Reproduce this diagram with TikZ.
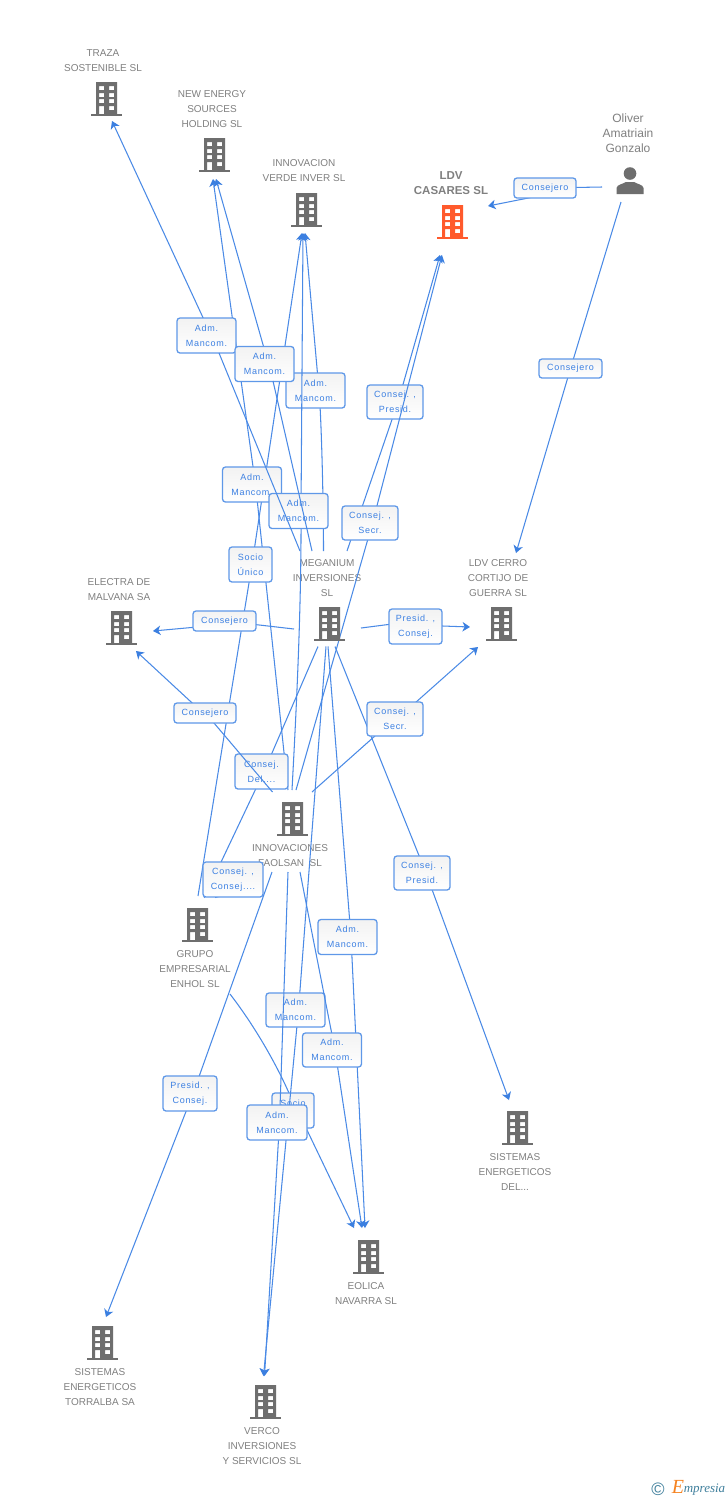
\documentclass[tikz,border=0pt]{standalone}
\usepackage{fontspec}
\setmainfont{Liberation Sans}
\newfontfamily\labf[LetterSpace=8]{Liberation Sans}
\newfontfamily\logof{Liberation Serif}
\usetikzlibrary{arrows.meta}
\definecolor{lnc}{HTML}{4A8AE6}
\definecolor{tipc}{HTML}{3B7FE0}
\definecolor{boxc}{HTML}{5F98E8}
\definecolor{labc}{HTML}{3C80E2}
\definecolor{namec}{HTML}{808080}
\definecolor{iconc}{HTML}{6E6E6E}
\definecolor{hotc}{HTML}{FF5A2C}
\definecolor{tealc}{HTML}{3F7F9C}
\definecolor{orangec}{HTML}{F58220}
\pgfdeclarelayer{txt}\pgfdeclarelayer{la}\pgfdeclarelayer{ba}\pgfdeclarelayer{lb}\pgfdeclarelayer{bb}
\pgfdeclarelayer{lc}\pgfdeclarelayer{bc}\pgfdeclarelayer{ld}\pgfdeclarelayer{bd}
\pgfsetlayers{txt,la,ba,lb,bb,lc,bc,ld,bd,main}
\tikzset{
  ln/.style={draw=lnc,line width=1.05pt},
  arr/.style={ln,-{Stealth[length=7.5pt,width=9.5pt,inset=2.2pt,color=tipc]}},
  lab/.style={draw=boxc,line width=1.3pt,rounded corners=3pt,top color=black!5,bottom color=white,
    inner sep=0pt,text=labc,align=center,font=\labf\fontsize{9}{15}\selectfont},
  nmtxt/.style={inner sep=0pt,text=namec,align=center,font=\fontsize{10}{15}\selectfont},
  bldg/.style={inner sep=0pt,minimum size=32pt},
  pics/bld/.style={code={
    \fill[#1,even odd rule] (-10,-16) rectangle (11,16)
      (-7,-12) rectangle (-2,-8) (3,-12) rectangle (8,-8)
      (-7,-5) rectangle (-2,-1) (3,-5) rectangle (8,-1)
      (-7,1) rectangle (-2,5) (3,1) rectangle (8,5)
      (-7,8) rectangle (-2,16) (3,8) rectangle (8,12);
    \fill[#1] (-15,16) rectangle (16,18);
  }},
  pics/person/.style={code={
    \fill[iconc] (0,-7.5) circle[radius=6.3];
    \fill[iconc] (-13.5,13) -- (-13.5,7) .. controls (-13,3.5) and (-7,3) .. (-4,1) -- (4,1) .. controls (7,3) and (13,3.5) .. (13.5,7) -- (13.5,13) -- cycle;
  }}
}
% layer, name, width, height, x, y, text
\newcommand\lbox[7]{\begin{pgfonlayer}{#1}\node[lab,minimum width=#3pt,minimum height=#4pt] (#2) at (#5,#6) {#7};\end{pgfonlayer}}
\newcommand\nm[4]{\begin{pgfonlayer}{txt}\node[nmtxt] (#1) at (#2,#3) {#4};\end{pgfonlayer}}
% layer, from, dx, dy, to, dx, dy
\newcommand\seg[7]{\begin{pgfonlayer}{#1}\draw[ln] ([shift={(#3,#4)}]#2.center) -- ([shift={(#6,#7)}]#5.center);\end{pgfonlayer}}
\newcommand\sega[7]{\begin{pgfonlayer}{#1}\draw[arr] ([shift={(#3,#4)}]#2.center) -- ([shift={(#6,#7)}]#5.center);\end{pgfonlayer}}
\begin{document}
\begin{tikzpicture}[x=1pt,y=-1pt]
\useasboundingbox (0,0) rectangle (728,1500);
\begin{pgfonlayer}{txt}\fill[white] (0,0) rectangle (728,1500);\end{pgfonlayer}
% entities
\node[bldg] (traza) at (106,98) {};
\node[bldg] (newen) at (214,154) {};
\node[bldg] (innvd) at (306,209) {};
\node[bldg] (cas) at (452,221) {};
\node[bldg] (oli) at (630,181) {};
\node[bldg] (ele) at (121,627) {};
\node[bldg] (meg) at (329,623) {};
\node[bldg] (cer) at (501,623) {};
\node[bldg] (inn) at (292,818) {};
\node[bldg] (enh) at (197,924) {};
\node[bldg] (sd) at (517,1127) {};
\node[bldg] (eol) at (368,1256) {};
\node[bldg] (tor) at (102,1342) {};
\node[bldg] (ver) at (265,1401) {};
\foreach \n in {traza,newen,innvd,ele,meg,cer,inn,enh,sd,eol,tor,ver}{\pic at (\n) {bld=iconc};}
\pic at (cas) {bld=hotc};
\pic at (oli) {person};
% names
\nm{ntraza}{103}{60.5}{TRAZA\\SOSTENIBLE SL}
\nm{nnewen}{212}{109}{NEW ENERGY\\SOURCES\\HOLDING SL}
\nm{ninnvd}{304}{170.5}{INNOVACION\\VERDE INVER SL}
\begin{pgfonlayer}{txt}\node[nmtxt,font=\bfseries\fontsize{11.5}{15}\selectfont] (ncas) at (451,183.5) {LDV\\CASARES SL};\end{pgfonlayer}
\begin{pgfonlayer}{txt}\node[nmtxt,font=\fontsize{12}{15}\selectfont] (noli) at (628,133) {Oliver\\Amatriain\\Gonzalo};\end{pgfonlayer}
\nm{nele}{119}{589.5}{ELECTRA DE\\MALVANA SA}
\nm{nmeg}{327}{578}{MEGANIUM\\INVERSIONES\\SL}
\nm{ncer}{498}{578}{LDV CERRO\\CORTIJO DE\\GUERRA SL}
\nm{ninn}{290}{855.5}{INNOVACIONES\\FAOLSAN\ \ SL}
\nm{nenh}{195}{969}{GRUPO\\EMPRESARIAL\\ENHOL SL}
\nm{nsd}{515}{1172}{SISTEMAS\\ENERGETICOS\\DEL...}
\nm{neol}{366}{1293.5}{EOLICA\\NAVARRA SL}
\nm{ntor}{100}{1387}{SISTEMAS\\ENERGETICOS\\TORRALBA SA}
\nm{nver}{262}{1446}{VERCO\\INVERSIONES\\Y SERVICIOS SL}
% relation labels
\lbox{ba}{l1}{62}{20}{545}{188}{Consejero}
\lbox{ba}{l2}{63}{19}{570.5}{368.5}{Consejero}
\lbox{bb}{l3}{59}{35}{206.5}{335.5}{Adm.\\Mancom.}
\lbox{bb}{l4}{59}{35}{264.5}{364}{Adm.\\Mancom.}
\lbox{ba}{l5}{59}{35}{315.5}{390.5}{Adm.\\Mancom.}
\lbox{ba}{l6}{59}{35}{252}{484.5}{Adm.\\Mancom.}
\lbox{bb}{l7}{59}{35}{298.5}{511}{Adm.\\Mancom.}
\lbox{ba}{l8}{43}{35}{250.5}{564.5}{Socio\\Único}
\lbox{ba}{l9}{56}{34}{395}{402}{Consej. ,\\Presid.}
\lbox{bb}{l9b}{56}{34}{370}{523}{Consej. ,\\Secr.}
\lbox{ba}{l10}{63}{20}{224.5}{621}{Consejero}
\lbox{ba}{l11}{53}{35}{415.5}{626.5}{Presid. ,\\Consej.}
\lbox{bb}{l12}{62}{20}{205}{713}{Consejero}
\lbox{bb}{l13}{56}{34}{395}{719}{Consej. ,\\Secr.}
\lbox{ba}{l14}{53}{35}{261.5}{771.5}{Consej.\\Del....}
\lbox{bb}{l15}{60}{35}{233}{879.5}{Consej. ,\\Consej....}
\lbox{bb}{l16}{56}{34}{422}{873}{Consej. ,\\Presid.}
\lbox{ba}{l17}{59}{35}{347.5}{937}{Adm.\\Mancom.}
\lbox{bb}{l18}{59}{34}{295.5}{1010}{Adm.\\Mancom.}
\lbox{bd}{l19}{59}{34}{332}{1050}{Adm.\\Mancom.}
\lbox{ba}{l20}{42}{35}{293}{1110.5}{Socio\\Único}
\lbox{bc}{l21}{60}{35}{277}{1122.5}{Adm.\\Mancom.}
\lbox{bc}{l22}{54}{35}{190}{1093.5}{Presid. ,\\Consej.}
% connectors
\seg{la}{oli}{-28}{6}{l1}{0}{0}
\sega{la}{l1}{0}{6.7}{cas}{36}{-15}
\seg{la}{oli}{-9}{21}{l2}{0}{0}
\sega{la}{l2}{0}{0}{cer}{15}{-70}
\seg{lc}{meg}{-29}{-72}{l3}{12.5}{17.5}
\sega{lb}{l3}{5}{0.5}{traza}{6}{23}
\seg{lc}{meg}{-17}{-72}{l4}{8.5}{17}
\sega{lb}{l4}{4}{0}{newen}{2}{25}
\begin{pgfonlayer}{la}\draw[ln] ([shift={(-5.5,-72)}]meg.center) .. controls ([shift={(-5.5,-120)}]meg.center) and ([shift={(6,30)}]l5.center) .. ([shift={(3.5,0)}]l5.center);\end{pgfonlayer}
\sega{la}{l5}{3.5}{0}{innvd}{-1}{24}
\seg{la}{inn}{-4}{-28}{l6}{3.5}{0}
\sega{la}{l6}{3.5}{0}{newen}{-1}{25}
\begin{pgfonlayer}{lb}\draw[ln] ([shift={(0,-28)}]inn.center) .. controls ([shift={(5,-120)}]inn.center) and ([shift={(3,90)}]l7.center) .. ([shift={(2.5,0)}]l7.center);\end{pgfonlayer}
\sega{lb}{l7}{2.5}{0}{innvd}{-3}{24}
\seg{la}{enh}{1}{-28}{l8}{1.5}{0}
\sega{la}{l8}{1.5}{0}{innvd}{-4}{24}
\seg{la}{meg}{18}{-72}{l9}{3}{0}
\sega{la}{l9}{3}{0}{cas}{-12}{34}
\seg{lb}{inn}{4}{-28}{l9b}{2.5}{0}
\sega{lb}{l9b}{2.5}{0}{cas}{-10}{34}
\seg{la}{meg}{-35}{6}{l10}{0}{0}
\sega{la}{l10}{0}{3.5}{ele}{32}{4}
\seg{la}{meg}{32}{5}{l11}{0}{-5.5}
\sega{la}{l11}{0}{-1.5}{cer}{-31}{4}
\seg{lb}{inn}{-19.5}{-26}{l12}{0.5}{0}
\sega{lb}{l12}{-2}{0}{ele}{15}{24}
\seg{lb}{inn}{20}{-26}{l13}{-1}{0}
\sega{lb}{l13}{2}{0}{cer}{-23}{24}
\seg{la}{meg}{-11}{23.5}{l14}{2.5}{0}
\sega{la}{l14}{2.5}{0}{enh}{7}{-26}
\seg{lb}{inn}{-42}{48}{l15}{0}{0}
\sega{lb}{l15}{0}{0}{enh}{18}{-26}
\seg{lb}{meg}{6}{23.5}{l16}{4}{0}
\sega{lb}{l16}{4}{0}{sd}{-8}{-27}
\seg{la}{meg}{-1}{23.5}{l17}{3.5}{0}
\sega{la}{l17}{3.5}{0}{eol}{-3}{-28}
\seg{lb}{meg}{-3}{23.5}{l18}{3}{0}
\sega{lb}{l18}{3}{0}{ver}{-1.5}{-25}
\seg{ld}{inn}{8}{54}{l19}{3}{0}
\sega{ld}{l19}{3}{0}{eol}{-6}{-28}
\begin{pgfonlayer}{la}\draw[ln] ([shift={(33,70)}]enh.center) .. controls ([shift={(53,96)}]enh.center) and ([shift={(-21,-55.5)}]l20.center) .. ([shift={(-4,-17.5)}]l20.center);\end{pgfonlayer}
\sega{la}{l20}{2}{-5.5}{eol}{-14}{-28}
\seg{lc}{inn}{-4}{54}{l21}{2.5}{0}
\sega{lc}{l21}{2.5}{0}{ver}{-0.5}{-25}
\seg{lc}{inn}{-20}{54}{l22}{3}{0}
\sega{lc}{l22}{3}{0}{tor}{4}{-25}
% logo
\node[inner sep=0pt,text=tealc,font=\fontsize{18}{18}\selectfont] (logoc) at (658,1489) {©};
\node[inner sep=0pt,text=orangec,font=\logof\itshape\fontsize{20}{20}\selectfont] (logoe) at (678,1487) {E};
\node[inner sep=0pt,text=tealc,font=\logof\itshape\fontsize{13}{13}\selectfont] (logot) at (704.5,1489.5) {mpresia};
\end{tikzpicture}
\end{document}
